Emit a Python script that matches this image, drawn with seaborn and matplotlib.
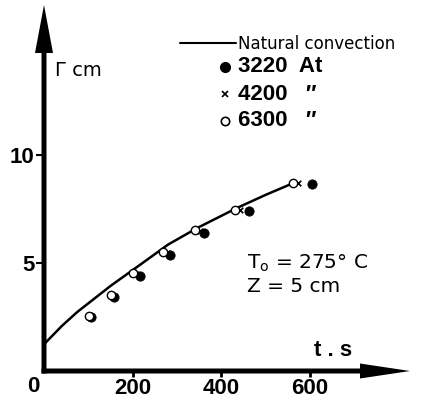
import matplotlib
matplotlib.use("Agg")
import matplotlib.pyplot as plt
import seaborn as sns
import pandas as pd
from matplotlib.patches import FancyArrow

# ---- data ----
curve_t = [3, 40, 75, 151, 226, 280, 346, 436, 500, 563]
curve_r = [1.3, 2.08, 2.73, 3.95, 5.05, 5.85, 6.62, 7.55, 8.15, 8.7]

t_3220 = [106, 158, 217, 285, 362, 463, 605]
r_3220 = [2.5, 3.45, 4.4, 5.37, 6.39, 7.4, 8.66]

t_4200 = [104, 156, 208, 277, 352, 443, 574]
r_4200 = [2.53, 3.47, 4.48, 5.45, 6.47, 7.45, 8.7]

t_6300 = [102, 152, 201, 269, 341, 432, 563]
r_6300 = [2.55, 3.5, 4.55, 5.5, 6.53, 7.45, 8.72]

x_ticks = [200, 400, 600]
y_ticks = [5, 10]

legend_labels = ["Natural convection", "3220  At", "4200   \u2033", "6300   \u2033"]

sns.set_theme(style="white")
plt.rcParams["font.family"] = ["DejaVu Sans"]
plt.rcParams["text.color"] = "black"
plt.rcParams["xtick.color"] = "black"
plt.rcParams["ytick.color"] = "black"
plt.rcParams["xtick.labelcolor"] = "black"
plt.rcParams["ytick.labelcolor"] = "black"

W, H = 426, 400
fig = plt.figure(figsize=(W / 100, H / 100), dpi=100)
# axes box is 366 x 366 px, so axes-fraction units are isotropic
ax = fig.add_axes([44 / W, 29 / H, 366 / W, 366 / H])
ax.set_xlim(0, 827)
ax.set_ylim(0, 16.95)
ax.patch.set_alpha(0)

curve_df = pd.DataFrame({"t": curve_t, "r": curve_r})
sns.lineplot(data=curve_df, x="t", y="r", ax=ax, color="black", lw=1.8,
             sort=False, estimator=None)

pts = pd.DataFrame({
    "t": t_6300 + t_4200 + t_3220,
    "r": r_6300 + r_4200 + r_3220,
    "p": ["6300"] * len(t_6300) + ["4200"] * len(t_4200) + ["3220"] * len(t_3220),
})
sns.scatterplot(data=pts[pts.p == "3220"], x="t", y="r", ax=ax, marker="o",
                s=45, color="black", edgecolor="black", zorder=4, legend=False)
sns.scatterplot(data=pts[pts.p == "4200"], x="t", y="r", ax=ax, marker="x",
                s=16, color="black", linewidth=1.2, zorder=5, legend=False)
sns.scatterplot(data=pts[pts.p == "6300"], x="t", y="r", ax=ax, marker="o",
                s=36, facecolor="white", edgecolor="black", linewidth=1.0,
                zorder=6, legend=False)

# axes drawn as arrows
for s in ax.spines.values():
    s.set_visible(False)
lw_ax = 5 / 366
ax.add_patch(FancyArrow(0, -lw_ax / 2, 0, 1 + lw_ax / 2, width=lw_ax,
                        head_width=18 / 366, head_length=48 / 366,
                        length_includes_head=True, transform=ax.transAxes,
                        clip_on=False, color="black", lw=0, zorder=7))
ax.add_patch(FancyArrow(-lw_ax / 2, 0, 1 + lw_ax / 2, 0, width=lw_ax,
                        head_width=15 / 366, head_length=50 / 366,
                        length_includes_head=True, transform=ax.transAxes,
                        clip_on=False, color="black", lw=0, zorder=7))

tick_font = dict(family=["Liberation Sans", "DejaVu Sans"], weight="bold", size=16)
ax.set_xticks(x_ticks)
ax.set_xticklabels([str(v) for v in x_ticks], fontdict=tick_font)
ax.set_yticks(y_ticks)
ax.set_yticklabels([str(v) for v in y_ticks], fontdict=tick_font)
ax.tick_params(axis="x", direction="out", length=4, width=2, pad=1, bottom=True)
ax.tick_params(axis="y", direction="out", length=6, width=1.5, pad=1, left=True)
ax.set_xlabel("")
ax.set_ylabel("")
fig.text(33 / W, 1 - 387 / H, "0", ha="center", va="center", **tick_font)

# axis names
fig.text(55 / W, 1 - 71 / H, "\u0393 cm", ha="left", va="center", fontsize=14)
fig.text(333 / W, 1 - 350 / H, "t . s", ha="center", va="center",
         family=["Liberation Sans", "DejaVu Sans"], weight="bold", size=16)

# annotation
fig.text(247 / W, 1 - 263 / H, "T$_\\mathrm{o}$ = 275\u00b0 C", ha="left",
         va="center", fontsize=14.5)
fig.text(247 / W, 1 - 286 / H, "Z = 5 cm", ha="left", va="center", fontsize=14.5)

# legend (manual)
fig.lines.append(plt.Line2D([180 / W, 236 / W], [1 - 43 / H, 1 - 43 / H],
                            transform=fig.transFigure, color="black", lw=1.5))
fig.text(238 / W, 1 - 44 / H, legend_labels[0], ha="left", va="center", fontsize=12)
rows = [67, 94, 121]
fig.lines.append(plt.Line2D([225 / W], [1 - rows[0] / H], transform=fig.transFigure,
                            marker="o", ms=7, color="black", ls="none"))
fig.lines.append(plt.Line2D([225 / W], [1 - rows[1] / H], transform=fig.transFigure,
                            marker="x", ms=4, mew=1.2, color="black", ls="none"))
fig.lines.append(plt.Line2D([225 / W], [1 - rows[2] / H], transform=fig.transFigure,
                            marker="o", ms=6, mfc="white", mec="black", mew=1.2, ls="none"))
for lab, y in zip(legend_labels[1:], rows):
    fig.text(238 / W, 1 - y / H, lab, ha="left", va="center",
             family=["Liberation Sans", "DejaVu Sans"], weight="bold", size=16)

fig.savefig("out.png", dpi=100)
